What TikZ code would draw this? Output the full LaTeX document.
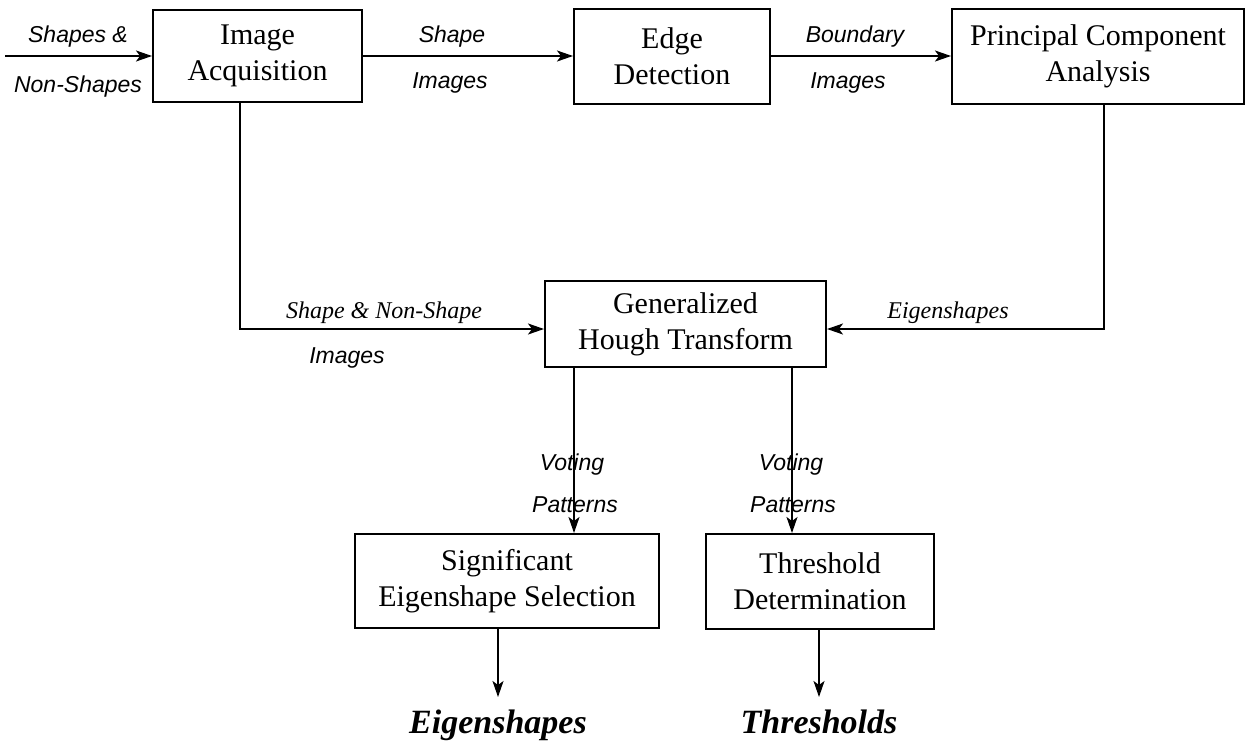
\documentclass[tikz,border=0pt]{standalone}
\usepackage{fontspec}
\setmainfont{Liberation Serif}
\newfontfamily\lsans{Liberation Sans}
\usetikzlibrary{arrows.meta}
\begin{document}
\begin{tikzpicture}[x=1pt,y=-1pt,
  box/.style={draw,line width=2pt,align=center,inner sep=0pt,
    font=\fontsize{30}{36}\selectfont},
  arr/.style={line width=1.6pt,-{Stealth[length=16pt,width=11pt,inset=4pt]}},
  slab/.style={inner sep=0pt,anchor=base,font=\lsans\itshape\fontsize{23}{26}\selectfont},
  rlab/.style={inner sep=0pt,anchor=base,font=\itshape\fontsize{24}{26}\selectfont},
  olab/.style={inner sep=0pt,anchor=base,font=\bfseries\itshape\fontsize{34}{40}\selectfont}]
\useasboundingbox (0,0) rectangle (1253,742);

% boxes
\node[box,minimum width=209pt,minimum height=92pt] (ia) at (257.5,56) {Image\\Acquisition};
\node[box,minimum width=196pt,minimum height=95pt] (ed) at (672,56) {Edge\\Detection};
\node[box,minimum width=292pt,minimum height=95pt] (pca) at (1098,56) {Principal Component\\Analysis};
\node[box,minimum width=281pt,minimum height=86pt] (ght) at (685.5,324) {Generalized\\Hough Transform};
\node[box,minimum width=304pt,minimum height=94pt] (sig) at (507,581) {Significant\\Eigenshape Selection};
\node[box,minimum width=228pt,minimum height=95pt] (thr) at (820,581.5) {Threshold\\Determination};

% free ends
\coordinate (in) at (5,56);
\coordinate (e1) at (498,697);
\coordinate (e2) at (819,697);

% top row connectors
\draw[arr] (in) -- (ia);
\draw[arr] (ia) -- (ed);
\draw[arr] (ed) -- (pca);

% into GHT
\draw[arr] ([xshift=-17.5pt]ia.south) |- ([yshift=-5pt]ght.west);
\draw[arr] ([xshift=6pt]pca.south) |- ([yshift=-5pt]ght.east);

% out of GHT
\draw[arr] ([xshift=-111.5pt]ght.south) -- ([xshift=-111.5pt]ght.south |- sig.north);
\draw[arr] ([xshift=106.5pt]ght.south) -- ([xshift=106.5pt]ght.south |- thr.north);

% outputs
\draw[arr] (sig.south -| e1) -- (e1);
\draw[arr] (thr.south -| e2) -- (e2);

% labels
\node[slab] (l1a) at (78,42) {Shapes \&};
\node[slab] (l1b) at (78,92) {Non-Shapes};
\node[slab] (l2a) at (452,42) {Shape};
\node[slab] (l2b) at (450,88) {Images};
\node[slab] (l3a) at (855,42) {Boundary};
\node[slab] (l3b) at (848,88) {Images};
\node[rlab] (l4a) at (384,318) {Shape \& Non-Shape};
\node[slab] (l4b) at (347,363) {Images};
\node[rlab] (l5) at (948,318) {Eigenshapes};
\node[slab] (v1a) at (572,470) {Voting};
\node[slab] (v1b) at (575,512) {Patterns};
\node[slab] (v2a) at (791,470) {Voting};
\node[slab] (v2b) at (793,512) {Patterns};
\node[olab] (o1) at (498,733) {Eigenshapes};
\node[olab] (o2) at (819,733) {Thresholds};
\end{tikzpicture}
\end{document}
